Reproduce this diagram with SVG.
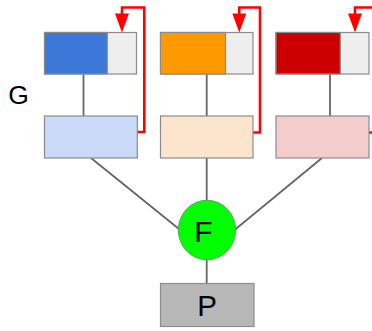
<svg xmlns="http://www.w3.org/2000/svg" width="372" height="331" viewBox="0 0 372 331">
  <defs>
    <style>
      .box { stroke: #8c8c8c; stroke-width: 1.2; }
      .link { stroke: #666666; stroke-width: 1.8; fill: none; }
      .loop { stroke: #ff0000; stroke-width: 2.6; fill: none; }
      .head { fill: #ff0000; }
      .lbl { font-family: "Liberation Sans", Arial, sans-serif; fill: #000000; text-anchor: middle; }
    </style>
  </defs>
  <rect width="372" height="331" fill="#ffffff"/>

  <!-- connectors -->
  <g id="connectors">
    <line class="link" x1="83.5" y1="74" x2="83.5" y2="116"/>
    <line class="link" x1="206.7" y1="74" x2="206.7" y2="116"/>
    <line class="link" x1="330" y1="74" x2="330" y2="116"/>
    <line class="link" x1="91" y1="158" x2="179" y2="229"/>
    <line class="link" x1="206.7" y1="158" x2="206.7" y2="201"/>
    <line class="link" x1="322" y1="158" x2="234.5" y2="230"/>
    <line class="link" x1="206.7" y1="259" x2="206.7" y2="283"/>
    <!-- feedback loops -->
    <path class="loop" d="M137,132 H144.3 V7.5 H122 V15"/>
    <polygon class="head" points="115,13.5 129,13.5 122,32.5"/>
    <path class="loop" d="M253,132.5 H260 V7.5 H239.3 V15"/>
    <polygon class="head" points="232.3,13.5 246.3,13.5 239.3,32.5"/>
    <path class="loop" d="M369,132.5 H378 V7.5 H355 V15"/>
    <polygon class="head" points="348,13.5 362,13.5 355,32.5"/>
  </g>

  <!-- top row -->
  <g id="top1">
    <rect class="box" x="44.5" y="32.5" width="92" height="41.5" fill="#eeeeee"/>
    <rect x="44.5" y="32.5" width="62.8" height="41.5" fill="#3c78d8" stroke="#8c8c8c" stroke-width="1.2"/>
  </g>
  <g id="top2">
    <rect class="box" x="160.5" y="32.5" width="92.5" height="41.5" fill="#eeeeee"/>
    <rect x="160.5" y="32.5" width="65" height="41.5" fill="#ff9900" stroke="#8c8c8c" stroke-width="1.2"/>
  </g>
  <g id="top3">
    <rect class="box" x="276" y="32.5" width="93" height="41.5" fill="#eeeeee"/>
    <rect x="276" y="32.5" width="64.3" height="41.5" fill="#cc0000" stroke="#8c8c8c" stroke-width="1.2"/>
  </g>

  <!-- lower row -->
  <g id="low1">
    <rect class="box" x="44.5" y="116" width="92.8" height="42" fill="#c9daf8"/>
  </g>
  <g id="low2">
    <rect class="box" x="160.5" y="116" width="92.5" height="42" fill="#fce5cd"/>
  </g>
  <g id="low3">
    <rect class="box" x="276" y="116" width="93" height="42" fill="#f4cccc"/>
  </g>

  <g id="labelG">
    <text class="lbl" x="18.5" y="103.5" font-size="26.5">G</text>
  </g>

  <g id="F">
    <ellipse cx="207" cy="230" rx="28.7" ry="29.8" fill="#00ff00" stroke="#5aa85a" stroke-width="1"/>
    <text class="lbl" x="203.5" y="241.5" font-size="30">F</text>
  </g>

  <g id="P">
    <rect class="box" x="160.5" y="283.5" width="93.5" height="43" fill="#b7b7b7"/>
    <text class="lbl" x="207" y="316" font-size="29.5">P</text>
  </g>
</svg>
